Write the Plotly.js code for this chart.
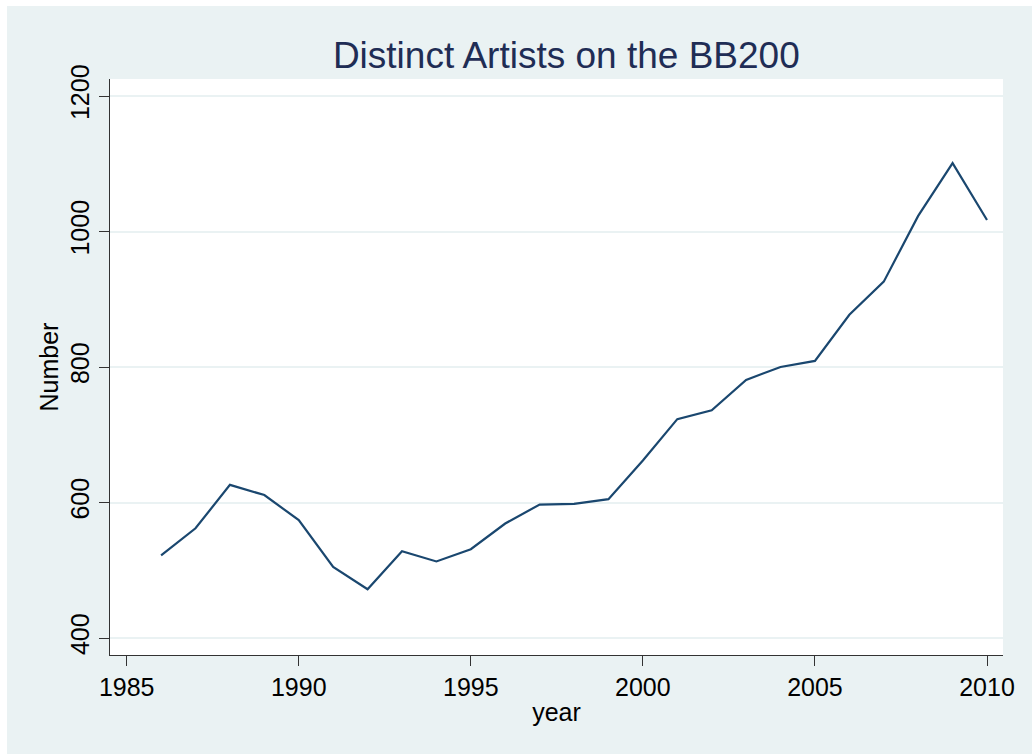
<!DOCTYPE html>
<html>
<head>
<meta charset="utf-8">
<script src="https://cdn.plot.ly/plotly-3.0.1.min.js"></script>
<style>
  body { margin: 0; background: #ffffff; }
  #chart { position: absolute; left: 7px; top: 6px; width: 1025px; height: 748px; }
</style>
</head>
<body>
<div id="chart"></div>
<script>
// years on the x axis
var years = [1986, 1987, 1988, 1989, 1990, 1991, 1992, 1993, 1994, 1995, 1996, 1997,
             1998, 1999, 2000, 2001, 2002, 2003, 2004, 2005, 2006, 2007, 2008, 2009, 2010];

// number of distinct artists per year
var artists = [522, 562, 626, 611, 574, 505, 472, 528, 513, 531, 569, 597,
               598, 605, 662, 723, 736, 781, 800, 809, 877, 926, 1023, 1101, 1017];

// tick values
var xTicks = [1985, 1990, 1995, 2000, 2005, 2010];
var yTicks = [400, 600, 800, 1000, 1200];

var trace1 = {
  x: years,
  y: artists,
  type: "scatter",
  mode: "lines",
  line: { color: "#1a476f", width: 2.2 },
  hoverinfo: "x+y"
};

var data = [trace1];

var layout = {
  width: 1025,
  height: 748,
  paper_bgcolor: "#eaf2f3",
  plot_bgcolor: "#ffffff",
  font: { family: "Liberation Sans, Arial, sans-serif", size: 25, color: "#000000" },
  margin: { l: 103, r: 29, t: 73, b: 99 },
  showlegend: false,
  title: {
    text: "Distinct Artists on the BB200",
    font: { size: 37, color: "#1f2d55" },
    x: 0.511,
    xref: "paper",
    xanchor: "center",
    y: 0.935,
    yref: "container",
    yanchor: "middle"
  },
  xaxis: {
    title: { text: "year", font: { size: 25 }, standoff: 3 },
    range: [1984.515, 2010.465],
    tickvals: xTicks,
    ticktext: xTicks.map(String),
    ticks: "outside",
    ticklen: 10,
    tickcolor: "#333333",
    tickwidth: 1,
    showline: true,
    linecolor: "#333333",
    linewidth: 1,
    showgrid: false,
    zeroline: false,
    tickfont: { size: 25 }
  },
  yaxis: {
    title: { text: "Number", font: { size: 25 }, standoff: 0 },
    automargin: true,
    range: [374.9, 1225.1],
    tickvals: yTicks,
    ticktext: yTicks.map(String),
    tickangle: -90,
    ticks: "outside",
    ticklen: 10,
    ticklabelstandoff: 0,
    tickcolor: "#333333",
    tickwidth: 1,
    showline: true,
    linecolor: "#333333",
    linewidth: 1,
    showgrid: true,
    gridcolor: "#eaf2f3",
    gridwidth: 2,
    zeroline: false,
    tickfont: { size: 25 }
  }
};

Plotly.newPlot("chart", data, layout, { displayModeBar: false, staticPlot: true });
</script>
</body>
</html>
